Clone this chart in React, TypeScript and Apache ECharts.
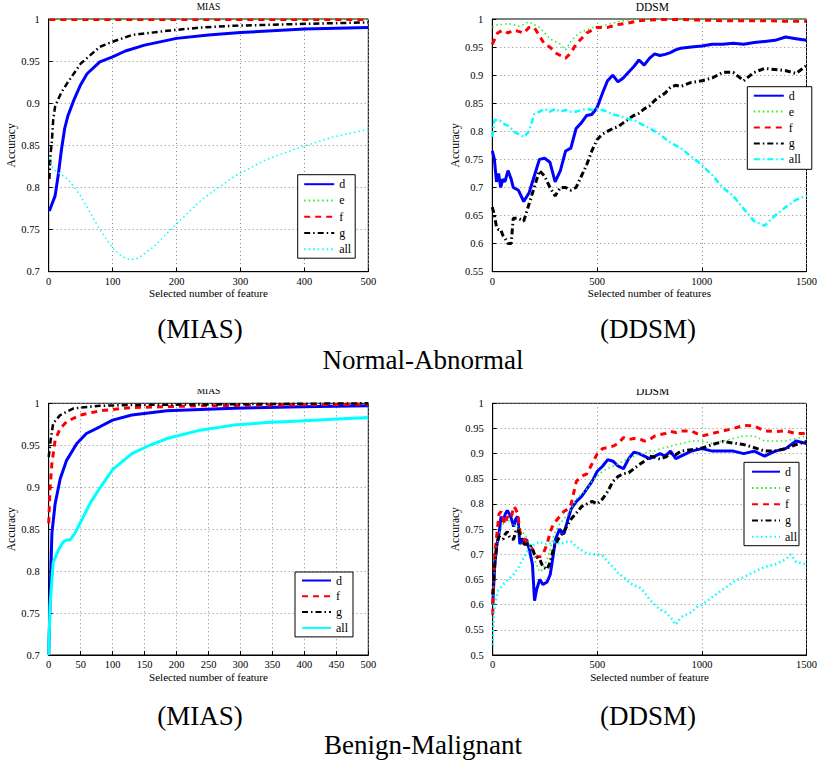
import React, { useEffect, useRef } from "react";
import * as echarts from "echarts";

// ---------- Normal-Abnormal / MIAS ----------
const naMiasDX = [1, 5, 10, 15, 20, 25, 30, 40, 50, 60, 80, 100, 120, 150, 200, 250, 300, 400, 500];
const naMiasD = [0.772, 0.78, 0.79, 0.815, 0.845, 0.87, 0.885, 0.905, 0.922, 0.935, 0.949, 0.955, 0.962, 0.969, 0.977, 0.981, 0.984, 0.988, 0.99];
const naMiasEX = [1, 100, 200, 300, 400, 500];
const naMiasE = [1, 1, 1, 1, 1, 1];
const naMiasFX = [1, 100, 200, 300, 400, 500];
const naMiasF = [0.999, 0.999, 0.999, 0.999, 0.999, 0.999];
const naMiasGX = [1, 3, 5, 7, 10, 15, 20, 30, 50, 80, 100, 130, 185, 240, 290, 390, 500];
const naMiasG = [0.81, 0.84, 0.855, 0.88, 0.896, 0.905, 0.913, 0.925, 0.947, 0.967, 0.973, 0.981, 0.986, 0.99, 0.992, 0.994, 0.996];
const naMiasAllX = [1, 5, 10, 20, 30, 50, 65, 80, 100, 115, 128, 140, 165, 195, 240, 290, 340, 395, 445, 500];
const naMiasAll = [0.835, 0.825, 0.82, 0.815, 0.81, 0.79, 0.77, 0.75, 0.728, 0.718, 0.714, 0.716, 0.73, 0.753, 0.786, 0.813, 0.833, 0.848, 0.86, 0.869];

// ---------- Normal-Abnormal / DDSM ----------
const naDdsmX = [0, 10, 20, 30, 40, 50, 60, 75, 90, 100, 125, 150, 175, 200, 225, 250, 275, 300, 325, 350, 375, 400, 425, 450, 475, 500, 525, 550, 575, 600, 625, 650, 675, 700, 725, 750, 775, 800, 825, 850, 875, 900, 950, 1000, 1050, 1100, 1150, 1200, 1250, 1300, 1350, 1400, 1450, 1500];
const naDdsmD = [0.765, 0.75, 0.71, 0.725, 0.70, 0.715, 0.71, 0.73, 0.715, 0.70, 0.695, 0.675, 0.69, 0.72, 0.75, 0.752, 0.745, 0.71, 0.73, 0.765, 0.77, 0.805, 0.815, 0.828, 0.83, 0.842, 0.867, 0.89, 0.90, 0.888, 0.895, 0.905, 0.915, 0.927, 0.918, 0.93, 0.938, 0.935, 0.937, 0.94, 0.945, 0.948, 0.95, 0.952, 0.955, 0.955, 0.957, 0.955, 0.958, 0.96, 0.962, 0.968, 0.965, 0.962];
const naDdsmG = [0.665, 0.65, 0.63, 0.625, 0.625, 0.615, 0.61, 0.60, 0.60, 0.645, 0.645, 0.64, 0.67, 0.70, 0.73, 0.72, 0.70, 0.685, 0.70, 0.70, 0.695, 0.70, 0.72, 0.74, 0.765, 0.785, 0.795, 0.80, 0.805, 0.808, 0.815, 0.822, 0.828, 0.832, 0.84, 0.845, 0.855, 0.862, 0.868, 0.878, 0.882, 0.88, 0.887, 0.89, 0.895, 0.905, 0.905, 0.89, 0.905, 0.912, 0.91, 0.908, 0.903, 0.917];
const naDdsmAll = [0.79, 0.82, 0.82, 0.82, 0.818, 0.815, 0.812, 0.81, 0.805, 0.80, 0.795, 0.79, 0.80, 0.83, 0.835, 0.84, 0.835, 0.84, 0.835, 0.838, 0.835, 0.835, 0.838, 0.84, 0.838, 0.84, 0.838, 0.835, 0.83, 0.828, 0.825, 0.822, 0.82, 0.815, 0.81, 0.806, 0.80, 0.795, 0.787, 0.78, 0.775, 0.77, 0.755, 0.74, 0.722, 0.70, 0.685, 0.662, 0.64, 0.632, 0.65, 0.665, 0.678, 0.686];
const naDdsmEFX = [0, 25, 50, 75, 100, 125, 150, 175, 200, 225, 250, 275, 300, 325, 350, 375, 400, 425, 450, 475, 500, 550, 600, 650, 700, 800, 900, 1000, 1100, 1200, 1300, 1400, 1500];
const naDdsmE = [0.985, 0.99, 0.99, 0.992, 0.99, 0.987, 0.99, 0.995, 0.99, 0.985, 0.975, 0.965, 0.96, 0.955, 0.945, 0.96, 0.97, 0.978, 0.98, 0.985, 0.985, 0.99, 0.995, 0.998, 1, 1, 1, 1, 1, 1, 1, 1, 1];
const naDdsmF = [0.955, 0.975, 0.98, 0.975, 0.98, 0.978, 0.975, 0.985, 0.985, 0.97, 0.955, 0.95, 0.94, 0.935, 0.93, 0.94, 0.955, 0.965, 0.975, 0.98, 0.985, 0.985, 0.99, 0.993, 0.997, 0.999, 0.999, 0.998, 0.997, 0.997, 0.997, 0.996, 0.996];

// ---------- Benign-Malignant / MIAS ----------
const bmMiasDX = [0, 2, 5, 10, 18, 28, 44, 59, 80, 100, 130, 185, 290, 395, 500];
const bmMiasD = [0.70, 0.762, 0.845, 0.88, 0.91, 0.932, 0.952, 0.964, 0.972, 0.98, 0.986, 0.991, 0.994, 0.996, 0.997];
const bmMiasFX = [0, 2, 5, 10, 18, 28, 49, 80, 130, 240, 500];
const bmMiasF = [0.857, 0.897, 0.928, 0.956, 0.97, 0.978, 0.986, 0.991, 0.995, 0.997, 0.999];
const bmMiasGX = [0, 3, 7, 18, 39, 80, 130, 500];
const bmMiasG = [0.936, 0.956, 0.976, 0.986, 0.994, 0.997, 0.998, 1.0];
const bmMiasAllX = [0, 2, 7, 15, 23, 28, 33, 41, 49, 65, 80, 100, 130, 158, 185, 237, 289, 341, 393, 445, 500];
const bmMiasAll = [0.70, 0.758, 0.81, 0.825, 0.835, 0.837, 0.837, 0.845, 0.857, 0.881, 0.899, 0.921, 0.94, 0.95, 0.958, 0.968, 0.974, 0.977, 0.979, 0.981, 0.983];

// ---------- Benign-Malignant / DDSM ----------
const bmDdsmX = [0, 5, 10, 20, 30, 40, 50, 60, 70, 80, 90, 100, 110, 120, 130, 140, 150, 160, 175, 190, 200, 210, 225, 240, 260, 275, 290, 300, 320, 340, 360, 375, 400, 425, 450, 475, 500, 525, 550, 575, 600, 625, 650, 675, 700, 725, 750, 775, 800, 825, 850, 875, 900, 950, 1000, 1050, 1100, 1150, 1200, 1250, 1300, 1350, 1400, 1450, 1500];
const bmDdsmD = [0.60, 0.64, 0.68, 0.72, 0.74, 0.775, 0.765, 0.78, 0.787, 0.78, 0.77, 0.755, 0.77, 0.775, 0.72, 0.73, 0.725, 0.73, 0.71, 0.68, 0.608, 0.63, 0.65, 0.64, 0.645, 0.66, 0.70, 0.73, 0.75, 0.74, 0.77, 0.79, 0.805, 0.815, 0.83, 0.845, 0.865, 0.875, 0.888, 0.885, 0.875, 0.87, 0.89, 0.903, 0.90, 0.895, 0.89, 0.895, 0.90, 0.895, 0.905, 0.89, 0.895, 0.905, 0.91, 0.905, 0.905, 0.905, 0.90, 0.905, 0.895, 0.905, 0.91, 0.925, 0.92];
const bmDdsmE = [0.60, 0.64, 0.68, 0.72, 0.74, 0.75, 0.76, 0.765, 0.77, 0.765, 0.76, 0.755, 0.76, 0.755, 0.75, 0.745, 0.74, 0.735, 0.725, 0.71, 0.69, 0.68, 0.665, 0.67, 0.69, 0.71, 0.735, 0.745, 0.76, 0.77, 0.78, 0.79, 0.81, 0.82, 0.83, 0.845, 0.855, 0.865, 0.87, 0.875, 0.88, 0.885, 0.89, 0.895, 0.90, 0.90, 0.905, 0.905, 0.91, 0.912, 0.915, 0.918, 0.92, 0.925, 0.925, 0.92, 0.925, 0.93, 0.935, 0.935, 0.925, 0.925, 0.925, 0.93, 0.935];
const bmDdsmF = [0.58, 0.65, 0.70, 0.74, 0.78, 0.785, 0.77, 0.76, 0.775, 0.77, 0.775, 0.795, 0.79, 0.78, 0.745, 0.735, 0.73, 0.725, 0.72, 0.71, 0.70, 0.695, 0.695, 0.70, 0.72, 0.745, 0.76, 0.765, 0.775, 0.785, 0.79, 0.80, 0.845, 0.855, 0.86, 0.88, 0.90, 0.91, 0.912, 0.915, 0.92, 0.932, 0.928, 0.93, 0.93, 0.925, 0.928, 0.935, 0.938, 0.94, 0.944, 0.942, 0.945, 0.945, 0.935, 0.94, 0.945, 0.95, 0.956, 0.955, 0.945, 0.944, 0.945, 0.94, 0.94];
const bmDdsmG = [0.62, 0.65, 0.68, 0.72, 0.735, 0.732, 0.73, 0.74, 0.745, 0.735, 0.73, 0.73, 0.745, 0.75, 0.74, 0.73, 0.72, 0.72, 0.72, 0.71, 0.70, 0.695, 0.69, 0.675, 0.67, 0.685, 0.71, 0.72, 0.735, 0.745, 0.76, 0.77, 0.782, 0.795, 0.80, 0.805, 0.80, 0.81, 0.825, 0.845, 0.855, 0.86, 0.862, 0.87, 0.878, 0.885, 0.895, 0.893, 0.889, 0.893, 0.90, 0.898, 0.905, 0.908, 0.911, 0.918, 0.924, 0.921, 0.918, 0.912, 0.905, 0.905, 0.91, 0.918, 0.924];
const bmDdsmAllX = [0, 5, 10, 25, 50, 75, 100, 125, 150, 175, 200, 225, 250, 275, 300, 325, 350, 375, 400, 425, 450, 475, 500, 525, 550, 575, 600, 625, 650, 675, 700, 725, 750, 775, 800, 825, 850, 875, 900, 925, 950, 975, 1000, 1050, 1100, 1150, 1200, 1250, 1300, 1350, 1400, 1425, 1450, 1500];
const bmDdsmAll = [0.52, 0.58, 0.60, 0.627, 0.64, 0.65, 0.66, 0.675, 0.695, 0.712, 0.72, 0.725, 0.72, 0.722, 0.725, 0.72, 0.725, 0.725, 0.715, 0.708, 0.702, 0.70, 0.70, 0.698, 0.685, 0.675, 0.662, 0.655, 0.645, 0.638, 0.635, 0.625, 0.61, 0.60, 0.59, 0.585, 0.575, 0.56, 0.575, 0.58, 0.585, 0.595, 0.60, 0.615, 0.63, 0.645, 0.655, 0.665, 0.675, 0.68, 0.69, 0.70, 0.685, 0.68];

// ---------- text ----------
const legendNames5 = ["d", "e", "f", "g", "all"];
const legendNames4 = ["d", "f", "g", "all"];
const yTitle = "Accuracy";
const panelTitles = ["MIAS", "DDSM", "MIAS", "DDSM"];
const xTitles = ["Selected number of feature", "Selected number of features", "Selected number of feature", "Selected number of feature"];
const subCaptions = ["(MIAS)", "(DDSM)", "(MIAS)", "(DDSM)"];
const groupCaptions = ["Normal-Abnormal", "Benign-Malignant"];

const FONT = "Liberation Serif";
const BLUE = "#0000ff";
const GREEN = "#22ee22";
const RED = "#ff0000";
const BLACK = "#000000";
const CYAN = "#00ffff";
const DOT = [1.5, 3];
const DASH = [6, 5];
const DASHDOT = [6, 3, 1.5, 3];

const grids = [
  { left: 48.7, top: 19, width: 319.6, height: 252.7 },
  { left: 492.3, top: 19, width: 320, height: 252.7 },
  { left: 48.7, top: 403.3, width: 319.6, height: 251.7 },
  { left: 492.7, top: 403.3, width: 319.6, height: 251.7 },
];

function pairs(xs: number[], ys: number[]) {
  return xs.map((x, i) => [x, ys[i]]);
}

function line(gi: number, name: string, xs: number[], ys: number[], color: string, width: number, dash: any) {
  return {
    type: "line",
    name: name + "#" + gi,
    xAxisIndex: gi,
    yAxisIndex: gi,
    data: pairs(xs, ys),
    symbol: "none",
    showSymbol: false,
    silent: true,
    clip: true,
    lineStyle: { color, width, type: dash, cap: "butt" },
    itemStyle: { color },
  };
}

function xAxis(gi: number, max: number, interval: number, name: string) {
  return {
    type: "value",
    gridIndex: gi,
    min: 0,
    max,
    interval,
    name,
    nameLocation: "middle",
    nameGap: 16,
    nameTextStyle: { fontFamily: FONT, fontSize: 11, color: "#000" },
    axisLine: { show: true, onZero: false, lineStyle: { color: "#000", width: 1 } },
    axisTick: { show: true, inside: true, length: 4, lineStyle: { color: "#000" } },
    axisLabel: {
      margin: 4,
      fontFamily: FONT,
      fontSize: 10.5,
      color: "#000",
      formatter: (v: number) => String(Math.round(v)),
    },
    splitLine: { show: true, lineStyle: { color: "#888", type: [1, 3], width: 1 } },
  };
}

function yAxis(gi: number, min: number, gap: number) {
  return {
    type: "value",
    gridIndex: gi,
    min,
    max: 1,
    interval: 0.05,
    name: yTitle,
    nameLocation: "middle",
    nameGap: gap,
    nameTextStyle: { fontFamily: FONT, fontSize: 11.5, color: "#000" },
    axisLine: { show: true, onZero: false, lineStyle: { color: "#000", width: 1 } },
    axisTick: { show: true, inside: true, length: 4, lineStyle: { color: "#000" } },
    axisLabel: {
      margin: 9,
      fontFamily: FONT,
      fontSize: 10.5,
      color: "#000",
      formatter: (v: number) => String(+v.toFixed(2)),
    },
    splitLine: { show: true, lineStyle: { color: "#888", type: [1, 3], width: 1 } },
  };
}

function legend(gi: number, names: string[], left: number, top: number, padding: number[], itemWidth: number, itemGap: number) {
  return {
    show: true,
    data: names.map((n) => n + "#" + gi),
    orient: "vertical",
    left,
    top,
    padding,
    itemWidth,
    itemHeight: 14,
    itemGap,
    backgroundColor: "#fff",
    borderColor: "#000",
    borderWidth: 1,
    borderRadius: 0,
    selectedMode: false,
    formatter: (n: string) => n.split("#")[0],
    itemStyle: { opacity: 0 },
    textStyle: { fontFamily: FONT, fontSize: 12, color: "#000", lineHeight: 14 },
  };
}

function txt(x: number, y: number, text: string, size: number) {
  return {
    type: "text",
    x,
    y,
    z: 50,
    silent: true,
    style: { text, fontFamily: FONT, fontSize: size, fill: "#000", textAlign: "center", textVerticalAlign: "middle" },
  };
}

export default function App() {
  const ref = useRef<HTMLDivElement>(null);
  useEffect(() => {
    if (!ref.current) return;
    const chart = echarts.init(ref.current, null, { renderer: "svg" });
    const option: any = {
      animation: false,
      backgroundColor: "#fff",
      grid: grids.map((g) => ({ ...g, show: true, borderColor: "#000", borderWidth: 1, backgroundColor: "transparent", containLabel: false })),
      xAxis: [
        xAxis(0, 500, 100, xTitles[0]),
        xAxis(1, 1500, 500, xTitles[1]),
        xAxis(2, 500, 50, xTitles[2]),
        xAxis(3, 1500, 500, xTitles[3]),
      ],
      yAxis: [yAxis(0, 0.7, 30), yAxis(1, 0.55, 25), yAxis(2, 0.7, 27), yAxis(3, 0.5, 26)],
      legend: [
        legend(0, legendNames5, 297.7, 174.7, [2.5, 4, 2, 5.5], 30, 2.25),
        legend(1, legendNames5, 747.3, 86.7, [2, 11, 3, 5.5], 30, 1.9),
        legend(2, legendNames4, 295, 572, [1.5, 5, 2, 6], 29, 1.8),
        legend(3, legendNames5, 744, 462.3, [2.4, 2, 2, 7], 28, 2.25),
      ],
      series: [
        line(0, "d", naMiasDX, naMiasD, BLUE, 3, "solid"),
        line(0, "e", naMiasEX, naMiasE, GREEN, 1.5, DOT),
        line(0, "f", naMiasFX, naMiasF, RED, 2.5, DASH),
        line(0, "g", naMiasGX, naMiasG, BLACK, 2.5, DASHDOT),
        line(0, "all", naMiasAllX, naMiasAll, CYAN, 1.5, DOT),

        line(1, "d", naDdsmX, naDdsmD, BLUE, 3, "solid"),
        line(1, "e", naDdsmEFX, naDdsmE, GREEN, 1.5, DOT),
        line(1, "f", naDdsmEFX, naDdsmF, RED, 3, DASH),
        line(1, "g", naDdsmX, naDdsmG, BLACK, 3, DASHDOT),
        line(1, "all", naDdsmX, naDdsmAll, CYAN, 2.5, DASHDOT),

        line(2, "d", bmMiasDX, bmMiasD, BLUE, 3, "solid"),
        line(2, "f", bmMiasFX, bmMiasF, RED, 3, DASH),
        line(2, "g", bmMiasGX, bmMiasG, BLACK, 2.5, DASHDOT),
        line(2, "all", bmMiasAllX, bmMiasAll, CYAN, 3, "solid"),

        line(3, "d", bmDdsmX, bmDdsmD, BLUE, 3, "solid"),
        line(3, "e", bmDdsmX, bmDdsmE, GREEN, 1.5, DOT),
        line(3, "f", bmDdsmX, bmDdsmF, RED, 3, DASH),
        line(3, "g", bmDdsmX, bmDdsmG, BLACK, 3, DASHDOT),
        line(3, "all", bmDdsmAllX, bmDdsmAll, CYAN, 2.5, DOT),
      ],
      graphic: [
        txt(208.5, 7, panelTitles[0], 9.5),
        txt(652.3, 7, panelTitles[1], 11.5),
        txt(208.5, 391, panelTitles[2], 9.5),
        txt(652.5, 391, panelTitles[3], 11.5),
        {
          type: "rect",
          z: 100,
          silent: true,
          shape: { x: 0, y: 374, width: 820, height: 15 },
          style: { fill: "#fff" },
        },
        txt(200, 329, subCaptions[0], 27),
        txt(648, 329, subCaptions[1], 27),
        txt(423, 360, groupCaptions[0], 27),
        txt(200, 716, subCaptions[2], 27),
        txt(648, 716, subCaptions[3], 27),
        txt(423, 745, groupCaptions[1], 27),
      ],
    };
    chart.setOption(option);
    return () => chart.dispose();
  }, []);
  return (
    <div
      ref={ref}
      style={{ position: "absolute", left: 0, top: 0, width: 820, height: 764, background: "#fff" }}
    />
  );
}
